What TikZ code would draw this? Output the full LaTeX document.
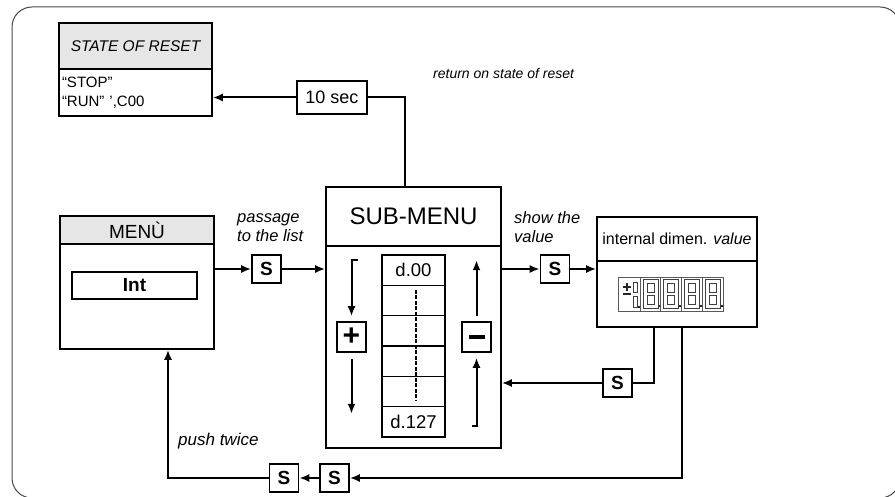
\documentclass[tikz,border=0pt]{standalone}
\usepackage{fontspec}
\setmainfont{Liberation Sans}
\usepackage{tikz}
\usetikzlibrary{arrows.meta,positioning}
\definecolor{headgray}{RGB}{230,230,230}
\definecolor{framegray}{RGB}{70,70,70}

\tikzset{
  box/.style={draw, line width=1.6pt, inner sep=2pt},
  headbox/.style={box, fill=headgray},
  skey/.style={box, minimum width=29pt, minimum height=28pt, font=\bfseries\fontsize{19}{19}\selectfont},
  arr/.style={-{Latex[length=10pt,width=8pt]}, line width=2pt},
  link/.style={line width=2pt},
  note/.style={font=\itshape\fontsize{16.5}{19}\selectfont, align=left, anchor=west, inner sep=0pt},
  seg/.style={draw=black!75, line width=0.8pt}
}

\begin{document}
\begin{tikzpicture}[x=1pt,y=-1pt]
            \useasboundingbox (0,0) rectangle (895,497);
            \clip (0,0) rectangle (895,497);

            % Frame
            \draw[framegray, line width=1pt, rounded corners=20pt] (12,7) rectangle (900,498);

            % State of reset
            \node[headbox, minimum width=153pt, minimum height=46pt, font=\itshape\fontsize{15.5}{15.5}\selectfont] (resethead) at (135.5,46) {STATE OF RESET};
            \node[box, minimum width=153pt, minimum height=47pt, text width=147pt, align=left, font=\fontsize{15}{19}\selectfont] (resetbody) at (135.5,92.5) {“STOP”\\“RUN” ',C00};

            % Timeout
            \node[box, minimum width=70pt, minimum height=33pt, font=\fontsize{18}{18}\selectfont] (timer) at (332,97.5) {10 sec};
            \coordinate (subtop) at (405,187);
            \draw[arr] (timer.west) -- (timer.west -| resetbody.east);
            \draw[link] (timer.east) -| (subtop);
            \node[note, font=\itshape\fontsize{14}{14}\selectfont] (retlabel) at (433,73) {return on state of reset};

            % Menu
            \node[headbox, minimum width=154pt, minimum height=28pt, font=\fontsize{19}{19}\selectfont] (menuhead) at (137,230) {MENÙ};
            \node[box, minimum width=154pt, minimum height=105pt] (menubody) at (137,296.5) {};
            \node[box, line width=1.2pt, minimum width=125pt, minimum height=27pt, font=\bfseries\fontsize{19}{19}\selectfont] (int) at (134.5,285.5) {Int};

            % Sub-menu
            \node[box, minimum width=175pt, minimum height=59pt, font=\fontsize{24}{24}\selectfont] (subhead) at (413.5,216.5) {SUB-MENU};
            \node[box, minimum width=175pt, minimum height=202pt] (subbody) at (413.5,347) {};
            \foreach \i/\txt in {0/d.00,1/,2/,3/,4/,5/d.127}
              \node[box, line width=1.4pt, minimum width=63pt, minimum height=30.33pt, font=\fontsize{18.5}{18.5}\selectfont] (cell\i) at (413.5,270.2+30.33*\i) {\txt};
            \draw[line width=2.2pt, dash pattern=on 4pt off 1.5pt] ([xshift=2.5pt,yshift=-5pt]cell1.north) -- ([xshift=2.5pt,yshift=6pt]cell4.south);

            % Plus / minus keys
            \node[box, minimum width=29pt, minimum height=30pt, font=\bfseries\fontsize{30}{30}\selectfont] (plus) at (351.5,337) {+};
            \node[box, minimum width=29pt, minimum height=30pt] (minus) at (476.5,337) {\rule{16pt}{4.5pt}};
            \draw[arr] ([xshift=6pt,yshift=61pt]plus.north) -- ([yshift=61pt]plus.north) -- ([yshift=5pt]plus.north);
            \draw[arr] ([yshift=-6pt]plus.south) -- ([yshift=-61pt]plus.south);
            \draw[arr] ([yshift=5pt]minus.north) -- ([yshift=61pt]minus.north);
            \draw[arr] ([xshift=-5pt,yshift=-73pt]minus.south) -- ([yshift=-73pt]minus.south) -- ([yshift=-5pt]minus.south);

            % Passage to the list
            \node[skey] (pass) at (266.5,269) {S};
            \draw[arr] (menubody.east |- pass) -- (pass);
            \draw[arr] (pass) -- (pass -| subbody.west);
            \node[note] (passlabel) at (237,227.5) {passage\\to the list};

            % Value
            \node[box, minimum width=160pt, minimum height=44pt, inner sep=1pt, font=\fontsize{16}{16}\selectfont] (valhead) at (677,239) {internal dimen. \textit{value}};
            \node[box, minimum width=160pt, minimum height=66pt] (valbody) at (677,294) {};
            \node[skey] (show) at (555,269) {S};
            \draw[arr] (subbody.east |- show) -- (show);
            \draw[arr] (show) -- (show -| valbody.west);
            \node[note] (showlabel) at (514,227.5) {show the\\value};

            % Display
            \draw[draw=black!65, line width=0.8pt] (618,277) rectangle (723,311);
            \draw[black!85, line width=1.8pt] (623,287) -- (631,287) (627,283) -- (627,291) (623,294) -- (631,294);
            \draw[seg] (633,282) rectangle (637,292) (633,296) rectangle (637,307);
            \fill[black!85] (638,306) rectangle (640,308);
            \foreach \k in {0,...,3} {
              \pgfmathsetmacro\xo{640+20.75*\k}
              \draw[draw=black!65, line width=0.8pt] (\xo,277) -- (\xo,311);
              \draw[seg] (\xo+3,279) rectangle (\xo+18,308) (\xo+7,283) rectangle (\xo+14,292) (\xo+7,295) rectangle (\xo+14,304);
              \fill[black!85] (\xo+18.5,305.5) rectangle (\xo+20.5,307.5);
            }

            % Back to sub-menu
            \node[skey] (back) at (617.5,383) {S};
            \draw[link] ([xshift=-23pt]valbody.south) |- (back);
            \draw[arr] (back) -- (back -| subbody.east);

            % Push twice
            \node[skey] (twiceb) at (334.5,478) {S};
            \node[skey] (twicea) at (284,478) {S};
            \draw[arr] ([xshift=5pt]valbody.south) |- (twiceb);
            \draw[arr] (twiceb) -- (twicea);
            \draw[arr] (twicea) -| ([xshift=31pt]menubody.south);
            \node[note, font=\itshape\fontsize{17}{17}\selectfont] (twicelabel) at (178,441) {push twice};
\end{tikzpicture}
\end{document}
